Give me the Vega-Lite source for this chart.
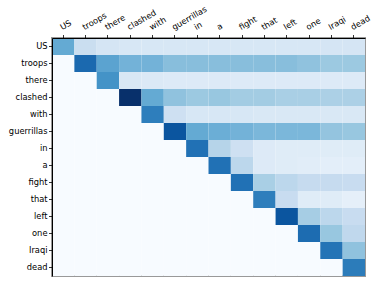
{
  "$schema": "https://vega.github.io/schema/vega-lite/v6.json",
  "autosize": "none",
  "width": 313,
  "height": 238,
  "padding": {"left": 52, "top": 38, "right": 17, "bottom": 10},
  "background": "white",
  "config": {
    "view": {"stroke": "#999999", "strokeWidth": 2},
    "axis": {"labelFont": "DejaVu Sans", "labelFontSize": 8.3, "labelColor": "#000000", "tickColor": "#000000", "domainColor": "#000000", "tickSize": 3.5, "labelPadding": 1.5, "grid": false, "title": null, "domainWidth": 1, "tickWidth": 0.8}
  },
  "data": {"values": [
    {"r":"US","c":"US","v":0.52},{"r":"US","c":"troops","v":0.23},{"r":"US","c":"there","v":0.17},{"r":"US","c":"clashed","v":0.16},{"r":"US","c":"with","v":0.16},{"r":"US","c":"guerrillas","v":0.16},{"r":"US","c":"in","v":0.16},{"r":"US","c":"a","v":0.16},{"r":"US","c":"fight","v":0.16},{"r":"US","c":"that","v":0.16},{"r":"US","c":"left","v":0.16},{"r":"US","c":"one","v":0.16},{"r":"US","c":"Iraqi","v":0.17},{"r":"US","c":"dead","v":0.17},
    {"r":"troops","c":"US","v":0},{"r":"troops","c":"troops","v":0.78},{"r":"troops","c":"there","v":0.55},{"r":"troops","c":"clashed","v":0.48},{"r":"troops","c":"with","v":0.48},{"r":"troops","c":"guerrillas","v":0.43},{"r":"troops","c":"in","v":0.43},{"r":"troops","c":"a","v":0.43},{"r":"troops","c":"fight","v":0.43},{"r":"troops","c":"that","v":0.43},{"r":"troops","c":"left","v":0.43},{"r":"troops","c":"one","v":0.41},{"r":"troops","c":"Iraqi","v":0.38},{"r":"troops","c":"dead","v":0.38},
    {"r":"there","c":"US","v":0},{"r":"there","c":"troops","v":0},{"r":"there","c":"there","v":0.62},{"r":"there","c":"clashed","v":0.15},{"r":"there","c":"with","v":0.14},{"r":"there","c":"guerrillas","v":0.13},{"r":"there","c":"in","v":0.13},{"r":"there","c":"a","v":0.13},{"r":"there","c":"fight","v":0.13},{"r":"there","c":"that","v":0.13},{"r":"there","c":"left","v":0.13},{"r":"there","c":"one","v":0.13},{"r":"there","c":"Iraqi","v":0.13},{"r":"there","c":"dead","v":0.13},
    {"r":"clashed","c":"US","v":0},{"r":"clashed","c":"troops","v":0},{"r":"clashed","c":"there","v":0},{"r":"clashed","c":"clashed","v":1.0},{"r":"clashed","c":"with","v":0.52},{"r":"clashed","c":"guerrillas","v":0.41},{"r":"clashed","c":"in","v":0.38},{"r":"clashed","c":"a","v":0.39},{"r":"clashed","c":"fight","v":0.36},{"r":"clashed","c":"that","v":0.36},{"r":"clashed","c":"left","v":0.34},{"r":"clashed","c":"one","v":0.34},{"r":"clashed","c":"Iraqi","v":0.33},{"r":"clashed","c":"dead","v":0.33},
    {"r":"with","c":"US","v":0},{"r":"with","c":"troops","v":0},{"r":"with","c":"there","v":0},{"r":"with","c":"clashed","v":0},{"r":"with","c":"with","v":0.7},{"r":"with","c":"guerrillas","v":0.21},{"r":"with","c":"in","v":0.16},{"r":"with","c":"a","v":0.16},{"r":"with","c":"fight","v":0.16},{"r":"with","c":"that","v":0.15},{"r":"with","c":"left","v":0.15},{"r":"with","c":"one","v":0.15},{"r":"with","c":"Iraqi","v":0.15},{"r":"with","c":"dead","v":0.15},
    {"r":"guerrillas","c":"US","v":0},{"r":"guerrillas","c":"troops","v":0},{"r":"guerrillas","c":"there","v":0},{"r":"guerrillas","c":"clashed","v":0},{"r":"guerrillas","c":"with","v":0},{"r":"guerrillas","c":"guerrillas","v":0.86},{"r":"guerrillas","c":"in","v":0.52},{"r":"guerrillas","c":"a","v":0.5},{"r":"guerrillas","c":"fight","v":0.48},{"r":"guerrillas","c":"that","v":0.46},{"r":"guerrillas","c":"left","v":0.46},{"r":"guerrillas","c":"one","v":0.46},{"r":"guerrillas","c":"Iraqi","v":0.4},{"r":"guerrillas","c":"dead","v":0.39},
    {"r":"in","c":"US","v":0},{"r":"in","c":"troops","v":0},{"r":"in","c":"there","v":0},{"r":"in","c":"clashed","v":0},{"r":"in","c":"with","v":0},{"r":"in","c":"guerrillas","v":0},{"r":"in","c":"in","v":0.75},{"r":"in","c":"a","v":0.3},{"r":"in","c":"fight","v":0.21},{"r":"in","c":"that","v":0.13},{"r":"in","c":"left","v":0.12},{"r":"in","c":"one","v":0.12},{"r":"in","c":"Iraqi","v":0.12},{"r":"in","c":"dead","v":0.12},
    {"r":"a","c":"US","v":0},{"r":"a","c":"troops","v":0},{"r":"a","c":"there","v":0},{"r":"a","c":"clashed","v":0},{"r":"a","c":"with","v":0},{"r":"a","c":"guerrillas","v":0},{"r":"a","c":"in","v":0},{"r":"a","c":"a","v":0.75},{"r":"a","c":"fight","v":0.28},{"r":"a","c":"that","v":0.13},{"r":"a","c":"left","v":0.12},{"r":"a","c":"one","v":0.11},{"r":"a","c":"Iraqi","v":0.1},{"r":"a","c":"dead","v":0.1},
    {"r":"fight","c":"US","v":0},{"r":"fight","c":"troops","v":0},{"r":"fight","c":"there","v":0},{"r":"fight","c":"clashed","v":0},{"r":"fight","c":"with","v":0},{"r":"fight","c":"guerrillas","v":0},{"r":"fight","c":"in","v":0},{"r":"fight","c":"a","v":0},{"r":"fight","c":"fight","v":0.75},{"r":"fight","c":"that","v":0.34},{"r":"fight","c":"left","v":0.28},{"r":"fight","c":"one","v":0.25},{"r":"fight","c":"Iraqi","v":0.25},{"r":"fight","c":"dead","v":0.24},
    {"r":"that","c":"US","v":0},{"r":"that","c":"troops","v":0},{"r":"that","c":"there","v":0},{"r":"that","c":"clashed","v":0},{"r":"that","c":"with","v":0},{"r":"that","c":"guerrillas","v":0},{"r":"that","c":"in","v":0},{"r":"that","c":"a","v":0},{"r":"that","c":"fight","v":0},{"r":"that","c":"that","v":0.7},{"r":"that","c":"left","v":0.24},{"r":"that","c":"one","v":0.12},{"r":"that","c":"Iraqi","v":0.12},{"r":"that","c":"dead","v":0.09},
    {"r":"left","c":"US","v":0},{"r":"left","c":"troops","v":0},{"r":"left","c":"there","v":0},{"r":"left","c":"clashed","v":0},{"r":"left","c":"with","v":0},{"r":"left","c":"guerrillas","v":0},{"r":"left","c":"in","v":0},{"r":"left","c":"a","v":0},{"r":"left","c":"fight","v":0},{"r":"left","c":"that","v":0},{"r":"left","c":"left","v":0.86},{"r":"left","c":"one","v":0.35},{"r":"left","c":"Iraqi","v":0.28},{"r":"left","c":"dead","v":0.24},
    {"r":"one","c":"US","v":0},{"r":"one","c":"troops","v":0},{"r":"one","c":"there","v":0},{"r":"one","c":"clashed","v":0},{"r":"one","c":"with","v":0},{"r":"one","c":"guerrillas","v":0},{"r":"one","c":"in","v":0},{"r":"one","c":"a","v":0},{"r":"one","c":"fight","v":0},{"r":"one","c":"that","v":0},{"r":"one","c":"left","v":0},{"r":"one","c":"one","v":0.77},{"r":"one","c":"Iraqi","v":0.39},{"r":"one","c":"dead","v":0.27},
    {"r":"Iraqi","c":"US","v":0},{"r":"Iraqi","c":"troops","v":0},{"r":"Iraqi","c":"there","v":0},{"r":"Iraqi","c":"clashed","v":0},{"r":"Iraqi","c":"with","v":0},{"r":"Iraqi","c":"guerrillas","v":0},{"r":"Iraqi","c":"in","v":0},{"r":"Iraqi","c":"a","v":0},{"r":"Iraqi","c":"fight","v":0},{"r":"Iraqi","c":"that","v":0},{"r":"Iraqi","c":"left","v":0},{"r":"Iraqi","c":"one","v":0},{"r":"Iraqi","c":"Iraqi","v":0.74},{"r":"Iraqi","c":"dead","v":0.41},
    {"r":"dead","c":"US","v":0},{"r":"dead","c":"troops","v":0},{"r":"dead","c":"there","v":0},{"r":"dead","c":"clashed","v":0},{"r":"dead","c":"with","v":0},{"r":"dead","c":"guerrillas","v":0},{"r":"dead","c":"in","v":0},{"r":"dead","c":"a","v":0},{"r":"dead","c":"fight","v":0},{"r":"dead","c":"that","v":0},{"r":"dead","c":"left","v":0},{"r":"dead","c":"one","v":0},{"r":"dead","c":"Iraqi","v":0},{"r":"dead","c":"dead","v":0.71}
  ]},
  "mark": {"type": "rect", "strokeWidth": 0},
  "encoding": {
    "x": {"field": "c", "type": "nominal", "sort": ["US","troops","there","clashed","with","guerrillas","in","a","fight","that","left","one","Iraqi","dead"], "scale": {"paddingInner": 0, "paddingOuter": 0}, "axis": {"orient": "top", "labelAngle": -30, "labelAlign": "left", "labelBaseline": "bottom", "labelPadding": 3}},
    "y": {"field": "r", "type": "nominal", "sort": ["US","troops","there","clashed","with","guerrillas","in","a","fight","that","left","one","Iraqi","dead"], "scale": {"paddingInner": 0, "paddingOuter": 0}},
    "color": {"field": "v", "type": "quantitative", "legend": null, "scale": {"domain": [0, 0.125, 0.25, 0.375, 0.5, 0.625, 0.75, 0.875, 1], "range": ["#f7fbff", "#deebf7", "#c6dbef", "#9ecae1", "#6baed6", "#4292c6", "#2171b5", "#08519c", "#08306b"], "interpolate": "rgb"}}
  }
}
